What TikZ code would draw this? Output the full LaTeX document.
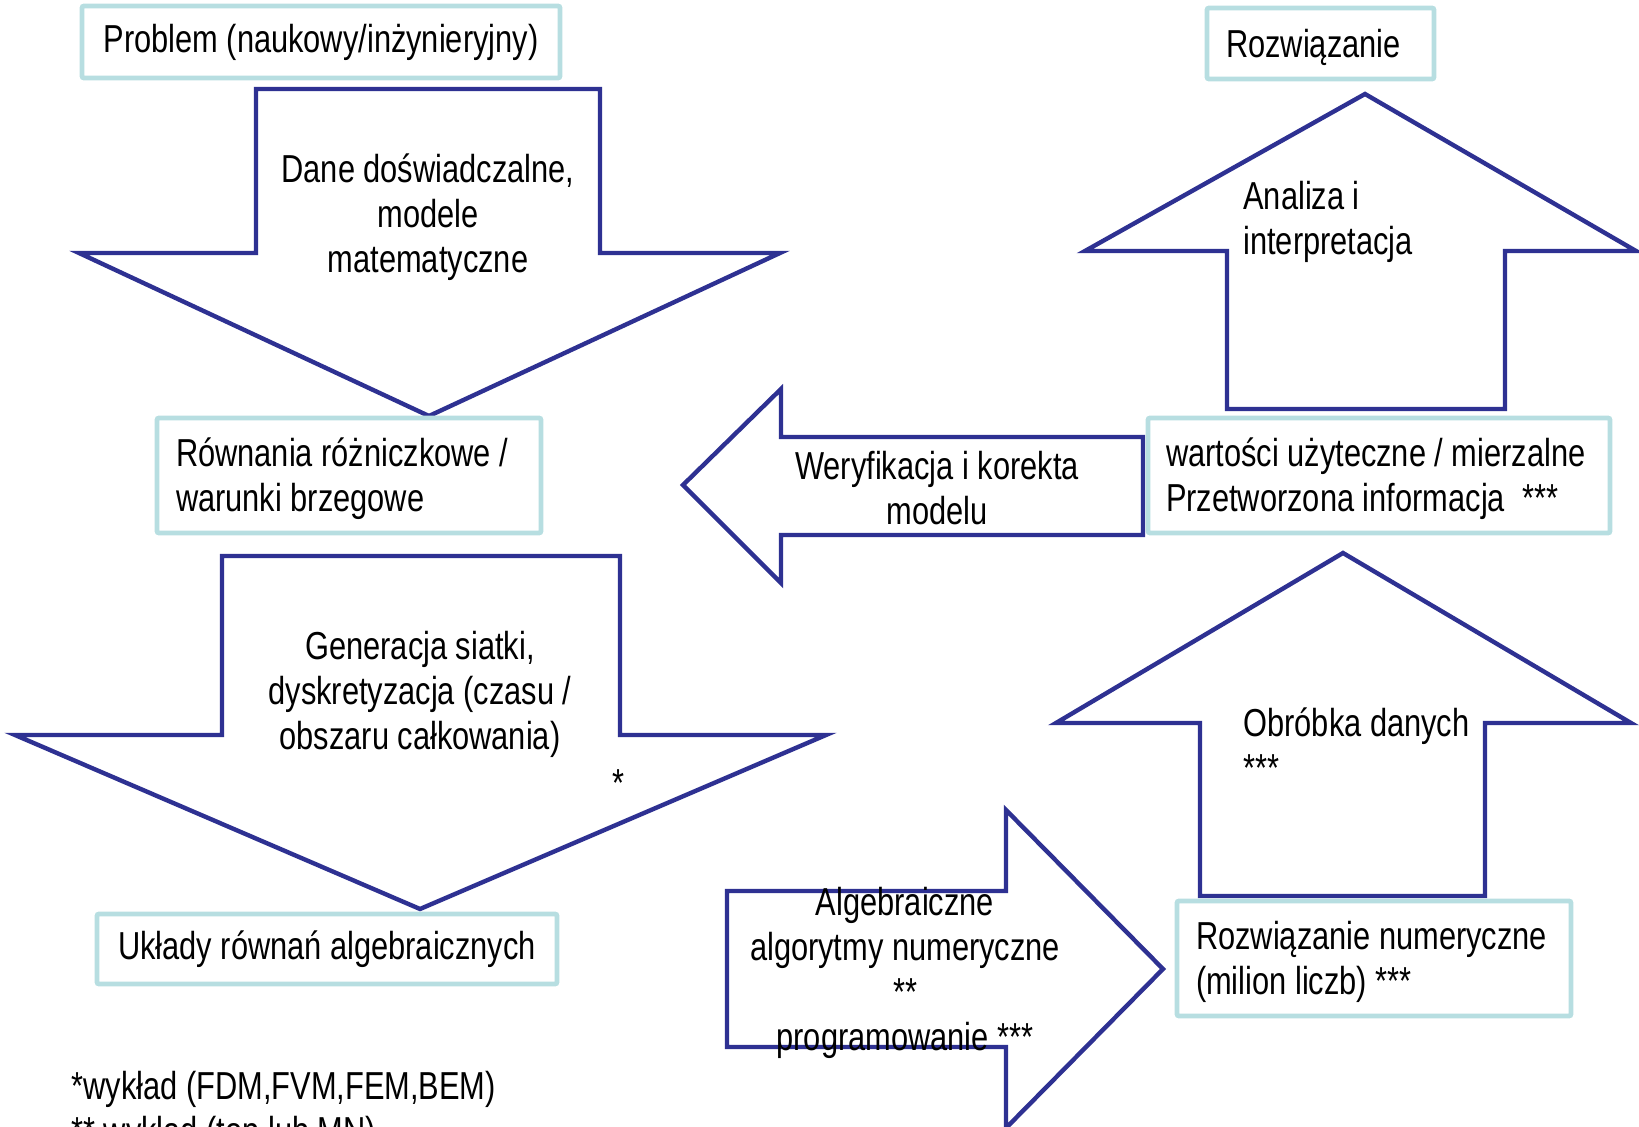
\documentclass[tikz,border=0pt]{standalone}
\usepackage{fontspec}
\setmainfont[FakeStretch=0.79]{Liberation Sans}
\definecolor{navy}{HTML}{2E3192}
\definecolor{boxc}{HTML}{B7DEE1}
\begin{document}
\begin{tikzpicture}[x=0.5pt,y=-0.5pt,
  arr/.style={draw=navy,line width=2.2pt,fill=white,line join=miter},
  box/.style={draw=boxc,line width=2.4pt,fill=white,rectangle,rounded corners=1pt,
    font=\fontsize{19.5}{22.5}\selectfont,inner sep=0pt},
  txt/.style={font=\fontsize{19.5}{22.5}\selectfont,inner sep=0pt}]
\useasboundingbox (0,0) rectangle (1639,1127);
\clip (0,0) rectangle (1639,1127);
% arrows
\draw[arr] (256,89) -- (600,89) -- (600,253) -- (780,253) -- (429,416) -- (79,253) -- (256,253) -- cycle;
\draw[arr] (222,556) -- (620,556) -- (620,735) -- (826,735) -- (420,909) -- (15,735) -- (222,735) -- cycle;
\draw[arr] (727,891) -- (1006,891) -- (1006,810) -- (1163,969) -- (1006,1128) -- (1006,1047) -- (727,1047) -- cycle;
\draw[arr] (1343,553) -- (1631,723) -- (1485,723) -- (1485,896) -- (1200,896) -- (1200,723) -- (1056,723) -- cycle;
\draw[arr] (1365,94) -- (1636,251) -- (1505,251) -- (1505,409) -- (1227,409) -- (1227,251) -- (1085,251) -- cycle;
\draw[arr] (683,485) -- (781,389) -- (781,437) -- (1143,437) -- (1143,535) -- (781,535) -- (781,583) -- cycle;
% boxes
\node[box,minimum width=239pt,minimum height=36pt] (prob) at (321,42) {Problem (naukowy/inżynieryjny)};
\node[box,minimum width=230pt,minimum height=35pt] (ukl) at (327,949) {Układy równań algebraicznych};
\node[box,minimum width=113.5pt,minimum height=35.5pt] (rozw) at (1320.5,43.5) {};
\node[box,minimum width=192pt,minimum height=57.5pt] (rown) at (349,475.5) {};
\node[box,minimum width=231pt,minimum height=57.5pt] (wart) at (1379,475.5) {};
\node[box,minimum width=197pt,minimum height=57.5pt] (rnum) at (1374,958.5) {};
% box texts (left aligned)
\node[txt,anchor=west] (rozwT) at ([xshift=10.5pt,yshift=-2.1pt]rozw.west) {Rozwiązanie};
\node[txt,anchor=west,align=left] (rownT) at ([xshift=10.5pt,yshift=-1.6pt]rown.west) {Równania różniczkowe /\\warunki brzegowe};
\node[txt,anchor=west,align=left] (wartT) at ([xshift=10pt,yshift=-1.6pt]wart.west) {wartości użyteczne / mierzalne\\Przetworzona informacja\ \ ***};
\node[txt,anchor=west,align=left] (rnumT) at ([xshift=10.5pt,yshift=-1.6pt]rnum.west) {Rozwiązanie numeryczne\\(milion liczb) ***};
% arrow texts
\node[txt,align=center] (t1) at (428,217) {Dane doświadczalne,\\modele\\matematyczne};
\node[txt,align=center] (t2) at (420,694) {Generacja siatki,\\dyskretyzacja (czasu /\\obszaru całkowania)};
\node[txt] (t2s) at (618,783) {*};
\node[txt,align=center] (t3) at (905,973) {Algebraiczne\\algorytmy numeryczne\\**\\programowanie ***};
\node[txt,align=left,anchor=west] (t4) at (1243,745) {Obróbka danych\\***};
\node[txt,align=left,anchor=west] (t5) at (1243,222) {Analiza i\\interpretacja};
\node[txt,align=center] (t6) at (937,488) {Weryfikacja i korekta\\modelu};
% footnotes
\node[txt,align=left,anchor=west] (fn) at (71,1112) {*wykład (FDM,FVM,FEM,BEM)\\** wykład (top lub MN)};
\end{tikzpicture}
\end{document}
